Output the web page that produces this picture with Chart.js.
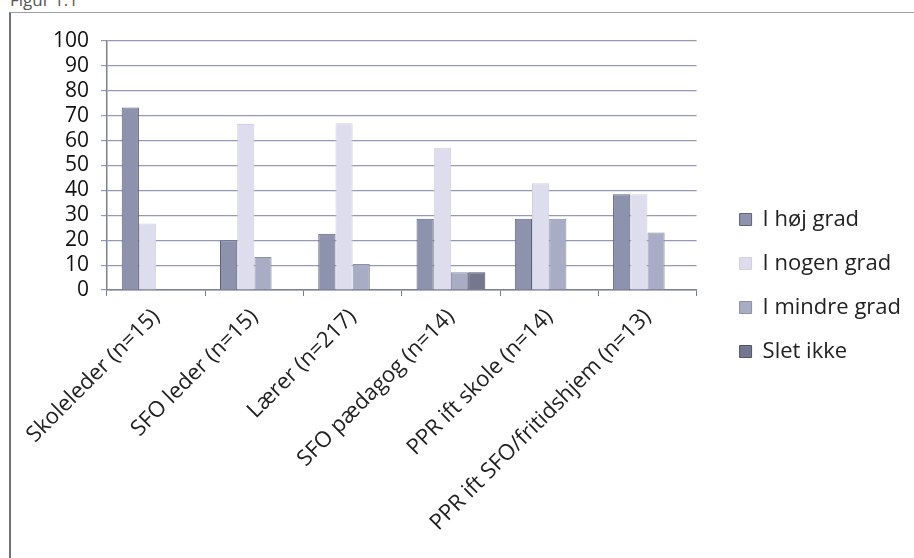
<!DOCTYPE html>
<html>
<head>
<meta charset="utf-8">
<script src="https://cdn.jsdelivr.net/npm/chart.js@4.4.1/dist/chart.umd.min.js"></script>
<style>
  html, body { margin: 0; padding: 0; background: #fff; }
  body { width: 914px; height: 558px; position: relative; overflow: hidden; }
  #caption { position: absolute; left: 10px; top: -12px; font: 17px "Open Sans", sans-serif; color: #555; }
  #frame { position: absolute; left: 9px; top: 12px; width: 905px; height: 546px;
    border-left: 2px solid #6f7380; border-top: 1px solid #9a9ca8; box-sizing: border-box; }
  #wrap { position: absolute; left: 11px; top: 13px; width: 903px; height: 545px; }
</style>
</head>
<body>
<div id="caption">Figur 1.1</div>
<div id="frame"></div>
<div id="wrap"><canvas id="chart"></canvas></div>
<script>
const categories = ['Skoleleder (n=15)', 'SFO leder (n=15)', 'Lærer (n=217)', 'SFO pædagog (n=14)', 'PPR ift skole (n=14)', 'PPR ift SFO/fritidshjem (n=13)'];
const iHoejGrad = [73.3, 20.0, 22.6, 28.6, 28.6, 38.5];
const iNogenGrad = [26.7, 66.7, 67.0, 57.1, 42.9, 38.5];
const iMindreGrad = [0, 13.3, 10.4, 7.1, 28.6, 23.1];
const sletIkke = [0, 0, 0, 7.1, 0, 0];
const yTicks = [0, 10, 20, 30, 40, 50, 60, 70, 80, 90, 100];

const gridColor = '#9498bc';
const fontFamily = '"Open Sans", Lato, sans-serif';

const ctx = document.getElementById('chart').getContext('2d');
new Chart(ctx, {
  type: 'bar',
  data: {
    labels: categories,
    datasets: [
      { label: 'I høj grad', data: iHoejGrad, backgroundColor: '#8d92ad', borderColor: '#5f6379', borderWidth: 1 },
      { label: 'I nogen grad', data: iNogenGrad, backgroundColor: '#dddded', borderColor: '#d0d0e2', borderWidth: 1 },
      { label: 'I mindre grad', data: iMindreGrad, backgroundColor: '#a8acc4', borderColor: '#8b8fa8', borderWidth: 1 },
      { label: 'Slet ikke', data: sletIkke, backgroundColor: '#73788f', borderColor: '#50546a', borderWidth: 1 }
    ]
  },
  options: {
    responsive: true,
    maintainAspectRatio: false,
    animation: false,
    layout: { padding: { top: 28, right: 3, bottom: 28, left: 0 } },
    datasets: { bar: { categoryPercentage: 0.7, barPercentage: 1.0 } },
    plugins: {
      title: { display: false },
      tooltip: { enabled: false },
      legend: {
        position: 'right',
        align: 'center',
        maxWidth: 320,
        labels: {
          color: '#222',
          font: { family: fontFamily, size: 22 },
          boxWidth: 12,
          boxHeight: 12,
          padding: 22
        }
      }
    },
    scales: {
      x: {
        // labels run on below the box, past the bottom padding
        afterFit: (axis) => { axis.height = 240; },
        grid: { display: true, drawOnChartArea: false, drawTicks: true, tickLength: 6, color: '#777b90', offset: true },
        border: { color: '#7d8196', width: 1.5 },
        ticks: {
          color: '#222',
          font: { family: fontFamily, size: 22 },
          maxRotation: 45,
          minRotation: 45,
          autoSkip: false,
          padding: 8
        }
      },
      y: {
        min: 0,
        max: 100,
        afterBuildTicks: (axis) => { axis.ticks = yTicks.map(v => ({ value: v })); },
        afterFit: (axis) => { axis.width = 96; },
        grid: { color: gridColor, lineWidth: 1.2, tickLength: 6 },
        border: { color: '#7d8196', width: 1.5 },
        ticks: {
          color: '#111',
          font: { family: fontFamily, size: 21 },
          autoSkip: false,
          padding: 12
        }
      },
      // empty right-hand axis, only used as a gap between plot and legend
      gap: {
        type: 'linear',
        position: 'right',
        afterFit: (axis) => { axis.width = 21; },
        grid: { display: false },
        border: { display: false },
        ticks: { display: false }
      }
    }
  }
});
</script>
</body>
</html>
